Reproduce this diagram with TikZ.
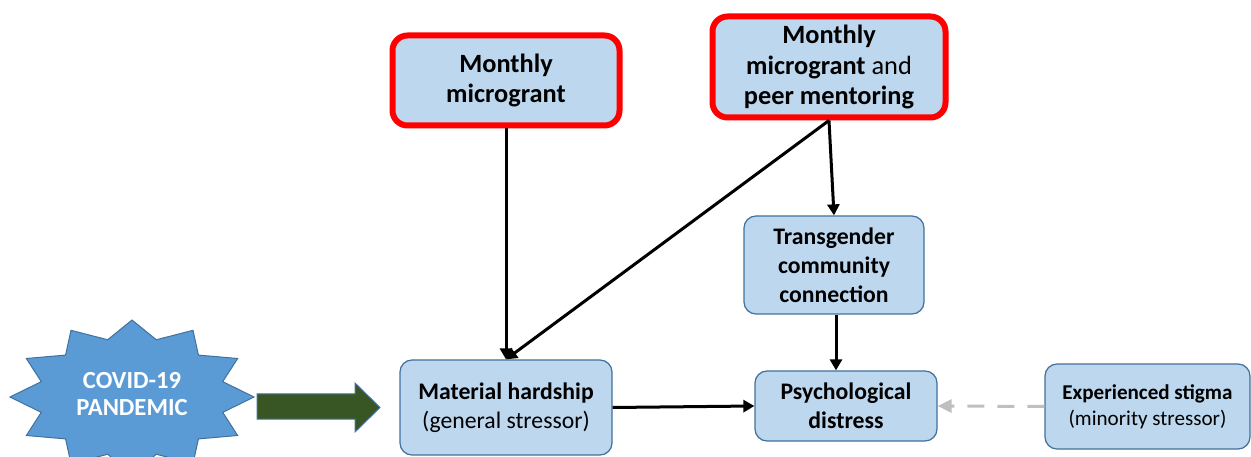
\documentclass[tikz,border=0pt]{standalone}
\usepackage{fontspec}
\setmainfont{Carlito}
\usetikzlibrary{arrows.meta}
\definecolor{boxblue}{HTML}{BDD7EE}
\definecolor{boxedge}{HTML}{41719C}
\definecolor{starblue}{HTML}{5B9BD5}
\definecolor{arrowgreen}{HTML}{375623}
\definecolor{dashgray}{HTML}{BFBFBF}
\begin{document}
\begin{tikzpicture}[x=0.2mm, y=-0.2mm,
    box/.style={draw=boxedge, line width=0.25mm, fill=boxblue, rounded corners=2.4mm, align=center, inner sep=0pt, font=\fontsize{13.5}{16.5}\selectfont},
    redbox/.style={box, draw=red, line width=1.2mm, rounded corners=3mm, font=\fontsize{15}{17.5}\selectfont},
    link/.style={line width=0.6mm, -{Triangle[length=2.2mm, width=2.4mm]}},
    faintlink/.style={line width=0.6mm, dashgray, dash pattern=on 3.4mm off 2.6mm, -{Triangle[length=2.8mm, width=2.6mm]}}]
    \clip (0,0) rectangle (1251,457);
    \node[redbox, minimum width=45.4mm, minimum height=18mm] (grant) at (506,80.5) {\textbf{Monthly}\\\textbf{microgrant}};
    \node[redbox, minimum width=46.6mm, minimum height=20.2mm] (mentor) at (829,67) {\textbf{Monthly}\\\textbf{microgrant} and\\\textbf{peer mentoring}};
    \node[box, minimum width=36mm, minimum height=19.6mm] (connect) at (834,265) {\textbf{Transgender}\\\textbf{community}\\\textbf{connection}};
    \node[box, minimum width=42.4mm, minimum height=19mm] (hardship) at (506,407.5) {\textbf{Material hardship}\\(general stressor)};
    \node[box, minimum width=36.4mm, minimum height=14mm] (distress) at (846,406) {\textbf{Psychological}\\\textbf{distress}};
    \node[box, minimum width=41mm, minimum height=17mm, font=\fontsize{12}{15}\selectfont] (stigma) at (1147.5,406.5) {\textbf{Experienced stigma}\\(minority stressor)};
    % pandemic star and block arrow
    \filldraw[fill=starblue, draw=boxedge, line width=0.2mm] plot[samples at={0,...,23}, variable=\k]
        ({132+122*(iseven(\k)?1:0.77)*cos(90+15*\k)}, {397-77*(iseven(\k)?1:0.77)*sin(90+15*\k)}) -- cycle;
    \node[white, align=center, font=\bfseries\fontsize{14}{15.5}\selectfont] (covid) at (132,394) {COVID-19\\PANDEMIC};
    \filldraw[fill=arrowgreen, draw=boxedge, line width=0.2mm] (257,394) -- (355,394) -- (355,383) -- (380,407.5) -- (355,432) -- (355,419) -- (257,419) -- cycle;
    \draw[link] (grant.south) -- (hardship.north);
    \draw[link] (mentor.south) -- (hardship.north);
    \draw[link] (mentor.south) -- (connect.north);
    \draw[link] ([xshift=0.4mm]connect.south) -- ([xshift=0.4mm]connect.south |- distress.north);
    \draw[link] (hardship.east) -- (distress.west);
    \draw[faintlink] (stigma.west) -- (distress.east);
\end{tikzpicture}
\end{document}
